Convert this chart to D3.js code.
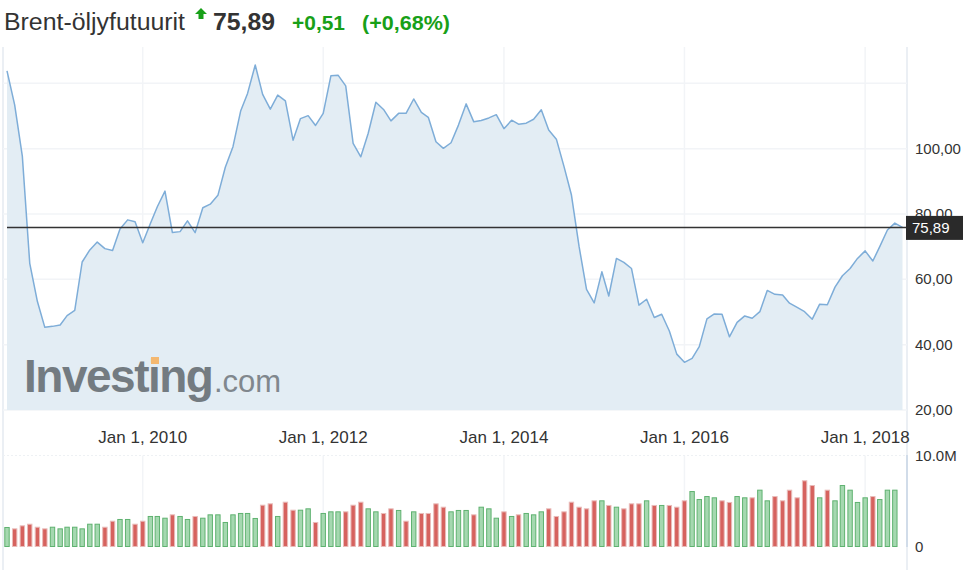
<!DOCTYPE html>
<html>
<head>
<meta charset="utf-8">
<script src="https://cdn.jsdelivr.net/npm/d3@7"></script>
<style>
  body { margin: 0; background: #fff; }
  text { font-family: Arial, "Liberation Sans", sans-serif; }
</style>
</head>
<body>
<svg width="965" height="577"></svg>
<script>
//	monthly closes, Jul 2008 .. Jun 2018
var startMonth = new Date(2008, 6, 1);
var prices = [
    123.8, 113.4, 97.7, 64.9, 53.2, 45.3, 45.6, 46.0, 48.9, 50.5,
    65.3, 69.0, 71.4, 69.4, 68.8, 75.4, 78.2, 77.6, 71.2, 77.1,
    82.2, 87.0, 74.3, 74.6, 77.9, 74.3, 81.9, 83.0, 85.7, 94.3,
    100.6, 111.5, 116.9, 125.6, 116.6, 112.1, 116.4, 114.6, 102.6, 109.2,
    110.1, 107.1, 110.8, 122.3, 122.5, 119.2, 101.6, 97.5, 104.7, 114.2,
    112.0, 108.5, 110.8, 110.8, 115.2, 111.1, 109.6, 102.1, 100.1, 101.8,
    107.2, 113.7, 108.2, 108.6, 109.4, 110.4, 106.1, 108.7, 107.5, 107.8,
    109.0, 111.9, 105.7, 102.9, 94.5, 85.8, 70.0, 56.9, 52.8, 62.3,
    54.9, 66.4, 65.2, 63.3, 52.1, 53.9, 48.3, 49.3, 44.2, 37.1,
    34.6, 35.8, 39.4, 47.9, 49.4, 49.3, 42.4, 46.8, 48.8, 48.1,
    50.1, 56.6, 55.4, 55.2, 52.7, 51.4, 50.1, 47.8, 52.4, 52.2,
    57.6, 61.1, 63.3, 66.4, 68.7, 65.6, 70.0, 75.1, 77.2, 75.89
];
//	volume in millions
var volumes = [
    2.09, 1.94, 2.27, 2.45, 2.12, 1.94, 2.12, 1.94, 2.12, 2.12,
    1.94, 2.45, 2.45, 2.12, 2.78, 2.97, 2.97, 2.45, 2.78, 3.30,
    3.30, 3.11, 3.48, 3.30, 2.97, 3.30, 3.11, 3.48, 3.48, 2.64,
    3.48, 3.63, 3.63, 3.08, 4.54, 4.69, 3.30, 4.87, 3.99, 3.99,
    4.14, 2.64, 3.63, 3.81, 3.81, 3.81, 4.54, 4.87, 4.14, 3.81,
    3.63, 4.14, 3.96, 2.78, 3.81, 3.63, 3.63, 4.69, 4.32, 3.81,
    3.96, 3.96, 3.48, 4.32, 4.14, 3.11, 3.81, 3.30, 3.48, 3.63,
    3.48, 3.81, 4.14, 3.30, 3.81, 4.87, 4.32, 4.14, 5.02, 5.02,
    4.51, 4.32, 4.14, 4.69, 4.69, 5.02, 4.51, 4.51, 4.51, 4.32,
    5.02, 6.04, 5.16, 5.49, 5.35, 5.02, 4.84, 5.49, 5.35, 5.35,
    6.19, 5.02, 5.49, 5.02, 6.19, 5.35, 7.22, 6.70, 5.35, 6.19,
    5.02, 6.70, 6.19, 4.84, 5.35, 5.49, 5.16, 6.19, 6.19
];
//	1 = green bar, 0 = red bar
var volumeUp = [
    1, 0, 0, 0, 0, 0, 1, 1, 1, 1,
    1, 1, 1, 0, 0, 1, 1, 0, 0, 1,
    1, 1, 0, 1, 1, 0, 1, 1, 1, 1,
    1, 1, 1, 1, 0, 0, 1, 0, 0, 1,
    1, 0, 1, 1, 1, 0, 0, 0, 1, 1,
    0, 0, 1, 0, 1, 0, 0, 0, 0, 1,
    1, 1, 0, 1, 1, 1, 0, 1, 0, 1,
    1, 1, 0, 0, 0, 0, 0, 0, 0, 1,
    0, 1, 0, 0, 0, 1, 0, 1, 0, 0,
    0, 1, 1, 1, 1, 0, 0, 1, 1, 0,
    1, 1, 0, 0, 0, 0, 0, 0, 1, 0,
    1, 1, 1, 1, 1, 0, 1, 1, 1
];
var priceTicks = [20, 40, 60, 80, 100];
var priceGrid = [20, 40, 60, 80, 100, 120];
var yearTicks = [2010, 2012, 2014, 2016, 2018];
var volumeTicks = [0, 10];
var lastPrice = 75.89;

var months = prices.map(function (p, i) {
    return d3.timeMonth.offset(startMonth, i);
});

var svg = d3.select("svg");
var fmt = function (v) { return d3.format(".2f")(v).replace(".", ","); };

//	scales
var x = d3.scaleTime()
        .domain([months[0], months[months.length - 1]])
        .range([7, 902.5]);
var y = d3.scaleLinear().domain([20, 120]).range([410, 83.3]);
var yv = d3.scaleLinear().domain([0, 10]).range([546.5, 455.5]);
var axisX = 907;

//	header: text, x, size, bold, colour, width
function headText(txt, xPos, size, bold, col, len) {
    svg.append("text").attr("x", xPos).attr("y", 30)
            .style("font-size", size + "px")
            .style("font-weight", bold ? "bold" : "normal")
            .attr("fill", col)
            .attr("textLength", len)
            .attr("lengthAdjust", "spacingAndGlyphs")
            .text(txt);
}
headText("Brent-öljyfutuurit", 4, 23, false, "#333", 181);
svg.append("path")
        .attr("d", "M201,8 L207,14 L203.5,14 L203.5,19 L198.5,19 L198.5,14 L195,14 Z")
        .attr("fill", "#18a018");
headText("75,89", 213, 24, true, "#333", 62);
headText("+0,51", 292, 21, true, "#18a018", 53);
headText("(+0,68%)", 362, 21, true, "#18a018", 88);

//	frame lines
svg.append("line").attr("x1", 3).attr("x2", 3).attr("y1", 47).attr("y2", 570)
        .attr("stroke", "#e5eaf0").attr("stroke-width", 1.5);
svg.append("line").attr("x1", axisX).attr("x2", axisX).attr("y1", 47).attr("y2", 570)
        .attr("stroke", "#e5eaf0").attr("stroke-width", 1.5);
svg.append("line").attr("x1", axisX).attr("x2", axisX).attr("y1", 455).attr("y2", 547)
        .attr("stroke", "#c9d6e6").attr("stroke-width", 1.5);

//	grids
var yearDates = yearTicks.map(function (yr) { return new Date(yr, 0, 1); });
svg.append("g").selectAll("line").data(priceGrid).enter().append("line")
        .attr("x1", 3).attr("x2", axisX)
        .attr("y1", function (d) { return y(d); })
        .attr("y2", function (d) { return y(d); })
        .attr("stroke", "#f2f4f7").attr("stroke-width", 1.5);
svg.append("g").selectAll("line").data(yearDates).enter().append("line")
        .attr("x1", function (d) { return x(d); })
        .attr("x2", function (d) { return x(d); })
        .attr("y1", 47).attr("y2", 410)
        .attr("stroke", "#f2f4f7").attr("stroke-width", 1.5);
svg.append("g").selectAll("line").data(yearDates).enter().append("line")
        .attr("x1", function (d) { return x(d); })
        .attr("x2", function (d) { return x(d); })
        .attr("y1", yv(10)).attr("y2", yv(0))
        .attr("stroke", "#f2f4f7").attr("stroke-width", 1.5);
svg.append("line").attr("x1", 3).attr("x2", axisX)
        .attr("y1", yv(10)).attr("y2", yv(10))
        .attr("stroke", "#eef1f4").attr("stroke-dasharray", "2,2");

//	area + line
var area = d3.area()
        .x(function (d, i) { return x(months[i]); })
        .y0(y(20))
        .y1(function (d) { return y(d); });
var line = d3.line()
        .x(function (d, i) { return x(months[i]); })
        .y(function (d) { return y(d); });

svg.append("path").datum(prices)
        .attr("d", area)
        .attr("fill", "#e3edf4");

//	watermark
var logo = svg.append("g").attr("fill", "#737b81");
logo.append("text").attr("x", 24).attr("y", 392)
        .style("font-size", "46px").style("font-weight", "bold")
        .style("letter-spacing", "-1.5px")
        .text("Investing");
logo.append("text").attr("x", 214).attr("y", 392)
        .style("font-size", "31px").attr("fill", "#80878d")
        .text(".com");
svg.append("rect").attr("x", 151).attr("y", 357).attr("width", 8).attr("height", 7)
        .attr("fill", "#f4b870");

svg.append("path").datum(prices)
        .attr("d", line)
        .attr("fill", "none")
        .attr("stroke", "#7eadd8")
        .attr("stroke-width", 1.5)
        .attr("stroke-linejoin", "round");

//	last price line
svg.append("line").attr("x1", 7).attr("x2", axisX)
        .attr("y1", y(lastPrice)).attr("y2", y(lastPrice))
        .attr("stroke", "#333").attr("stroke-width", 1.5);

//	right price axis labels
svg.append("g").selectAll("text").data(priceTicks).enter().append("text")
        .attr("x", 915)
        .attr("y", function (d) { return y(d) + 5; })
        .style("font-size", "15px").attr("fill", "#333")
        .text(function (d) { return fmt(d); });

//	last price tag
svg.append("rect").attr("x", 906).attr("y", y(lastPrice) - 11.5)
        .attr("width", 57).attr("height", 24).attr("fill", "#2a2a2a");
svg.append("text").attr("x", 912).attr("y", y(lastPrice) + 5.5)
        .style("font-size", "15px").attr("fill", "#fff")
        .text(fmt(lastPrice));

//	x axis labels
var fmtDate = d3.timeFormat("%b %-d, %Y");
svg.append("g").selectAll("text").data(yearDates).enter().append("text")
        .attr("x", function (d) { return x(d); })
        .attr("y", 443)
        .attr("text-anchor", "middle")
        .style("font-size", "17px").attr("fill", "#333")
        .text(function (d) { return fmtDate(d); });

//	volume bars
var barW = 4.4;
svg.append("g").selectAll("rect").data(volumes).enter().append("rect")
        .attr("x", function (d, i) { return x(months[i]) - barW / 2; })
        .attr("y", function (d) { return yv(d); })
        .attr("width", barW)
        .attr("height", function (d) { return yv(0) - yv(d); })
        .attr("fill", function (d, i) { return volumeUp[i] ? "#a5d8b0" : "#d6625e"; })
        .attr("stroke", function (d, i) { return volumeUp[i] ? "#5fb270" : "#e9bcba"; })
        .attr("stroke-width", 1);

//	volume axis labels
svg.append("g").selectAll("text").data(volumeTicks).enter().append("text")
        .attr("x", 915)
        .attr("y", function (d) { return yv(d) + 5; })
        .style("font-size", "15px").attr("fill", "#333")
        .text(function (d) { return d === 0 ? "0" : d3.format(".1f")(d) + "M"; });
</script>
</body>
</html>
